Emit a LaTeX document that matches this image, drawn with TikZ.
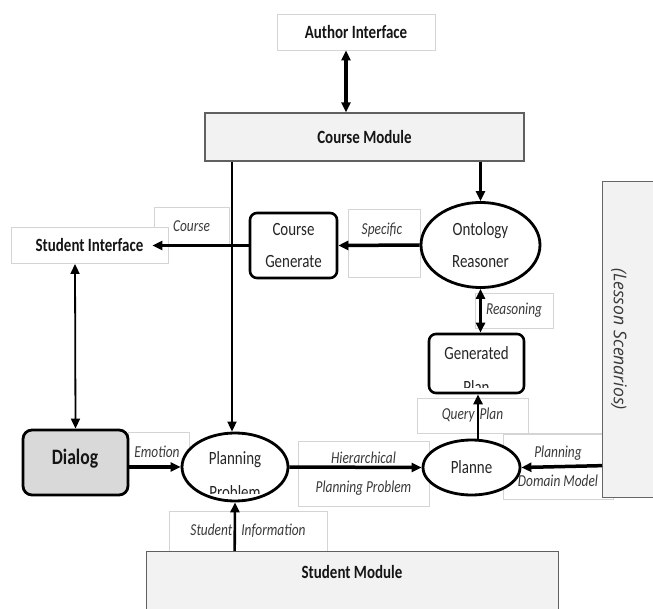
\documentclass[tikz,border=0pt]{standalone}
\usepackage{fontspec}
\setmainfont{Carlito}[FakeStretch=0.8]
\newfontfamily\lessonfont{Open Sans}
\usetikzlibrary{arrows.meta,shapes.geometric}
\definecolor{lbl}{HTML}{D4D4D4}
\definecolor{modfill}{HTML}{F2F2F2}
\definecolor{modline}{HTML}{606060}
\definecolor{dlgfill}{HTML}{D9D9D9}
\definecolor{txt}{HTML}{151515}
\definecolor{rtxt}{HTML}{262626}
\definecolor{ltxt}{HTML}{3A3A3A}
\begin{document}
\begin{tikzpicture}[x=1pt,y=-1pt,
  lblbox/.style={draw=lbl, line width=0.9pt, fill=white, inner sep=0pt},
  modbox/.style={draw=modline, line width=1.3pt, fill=modfill, inner sep=0pt},
  procbox/.style={draw=black, line width=2.6pt, rounded corners=7pt, fill=white, inner sep=0pt, align=center},
  procell/.style={ellipse, draw=black, line width=2.8pt, fill=white, inner sep=0pt, align=center},
  ttl/.style={font=\fontsize{18.7}{22}\selectfont\bfseries, text=txt},
  reg/.style={font=\fontsize{18.7}{31.5}\selectfont, text=rtxt},
  itl/.style={font=\fontsize{16.7}{29.5}\selectfont\itshape, text=ltxt, align=center},
  tip/.style={-{Triangle[length=10pt,width=9pt]}},
  dtip/.style={{Triangle[length=10pt,width=9pt]}-{Triangle[length=10pt,width=9pt]}},
  thickln/.style={line width=3.5pt},
  thinln/.style={line width=1.8pt},
  midln/.style={line width=2.6pt},
]
\useasboundingbox (0,0) rectangle (653,609);
\fill[white] (0,0) rectangle (653,609);

% label boxes
\node[lblbox, minimum width=75, minimum height=39, itl] (coursebox) at (191.5,226.5) {Course};
\node[lblbox, minimum width=72, minimum height=68] (specbox) at (384,243) {};
\node[itl] (spectxt) at (382,230) {Specific};
\node[lblbox, minimum width=78, minimum height=35, itl] (reasbox) at (514,310.5) {Reasoning};
\node[lblbox, minimum width=111, minimum height=35, itl] (qplan) at (472.5,415.5) {Query\hspace{5pt}Plan};
\node[lblbox, minimum width=110, minimum height=65, itl] (pdm) at (558,466.5) {Planning\\Domain Model};
\node[lblbox, minimum width=131, minimum height=65, itl] (hier) at (363.5,473.5) {Hierarchical\\Planning Problem};
\node[lblbox, minimum width=61, minimum height=34] (emobox) at (158.5,449) {};
\node[itl] (emotxt) at (157,452) {Emotion};
\node[lblbox, minimum width=158, minimum height=40, itl] (sinfo) at (248,531) {Student\hspace{9pt}Information};
\draw[lbl, line width=0.9pt] (qplan.south east) -- (qplan.south east -| 602,0);

% interfaces and modules
\node[lblbox, minimum width=158, minimum height=36, ttl] (author) at (356,32) {Author Interface};
\node[modbox, minimum width=319, minimum height=48, ttl] (cmod) at (364.5,137) {Course Module};
\node[lblbox, minimum width=157, minimum height=36, ttl] (studint) at (89.5,245.5) {Student Interface};
\node[modbox, minimum width=412, minimum height=70, anchor=north west] (smod) at (146,551) {};
\node[ttl] (smodtxt) at (352,572) {Student Module};
\node[modbox, draw=gray!80!black, minimum width=60, minimum height=316, anchor=north west] (lesson) at (602,181) {};
\node[rotate=-90, font=\lessonfont\itshape\fontsize{17.6}{20}\selectfont, text=ltxt] (lessontxt) at (619,339) {(Lesson Scenarios)};

% processes
\node[procbox, minimum width=87, minimum height=65, reg] (cgen) at (293.5,245.5) {Course\\Generate};
\node[procell, minimum width=119, minimum height=85, reg] (onto) at (480.5,245) {Ontology\\Reasoner};
\node[procbox, minimum width=95, minimum height=59] (gplan) at (476.5,363.5) {};
\node[reg] (gentxt) at (476.5,353) {Generated};
\begin{scope}
  \clip (430,340) rectangle (524,387.5);
  \node[reg] (plantxt) at (476.5,387) {Plan};
\end{scope}
\node[procbox, fill=dlgfill, line width=2.8pt, rounded corners=9pt, minimum width=105, minimum height=65] (dialog) at (75.5,462.5) {};
\node[font=\fontsize{22}{26}\selectfont\bfseries, text=txt] (dlgtxt) at (75,459) {Dialog};
\node[procell, minimum width=106, minimum height=68] (plan) at (235,467) {};
\node[reg] (plantitle) at (235,460) {Planning};
\begin{scope}
  \clip (180,440) rectangle (290,493.5);
  \node[reg] (probtxt) at (235,492) {Problem};
\end{scope}
\node[procell, minimum width=97, minimum height=55, reg] (planne) at (471.5,467.5) {Planne};

% connectors
\draw[thickln, dtip] ([xshift=-10pt]author.south) -- ([xshift=-18.5pt]cmod.north);
\draw[thinln, tip] ([xshift=-132.5pt]cmod.south) -- ([xshift=-3pt]plan.north);
\draw[thickln, tip] ([xshift=116pt]cmod.south) -- (onto.north);
\draw[thickln, tip] (onto.west) -- (cgen.east);
\draw[thickln, tip] (cgen.west) -- ([xshift=-16pt]studint.east);
\draw[thinln, dtip] ([xshift=-14.5pt]studint.south) -- (dialog.north);
\draw[thickln, tip] ([yshift=-4.5pt]dialog.east) -- (plan.west);
\draw[thickln, tip] (plan.east) -- (planne.west);
\draw[thickln, tip] ([yshift=-126pt]lesson.west) -- (planne.east);
\draw[midln, tip] ([xshift=6.5pt]planne.north) -- ([xshift=1.5pt]gplan.south);
\draw[midln, dtip] (onto.south) -- ([xshift=4pt]gplan.north);
\draw[midln, tip] ([xshift=-118pt]smod.north) -- (plan.south);
\end{tikzpicture}
\end{document}
